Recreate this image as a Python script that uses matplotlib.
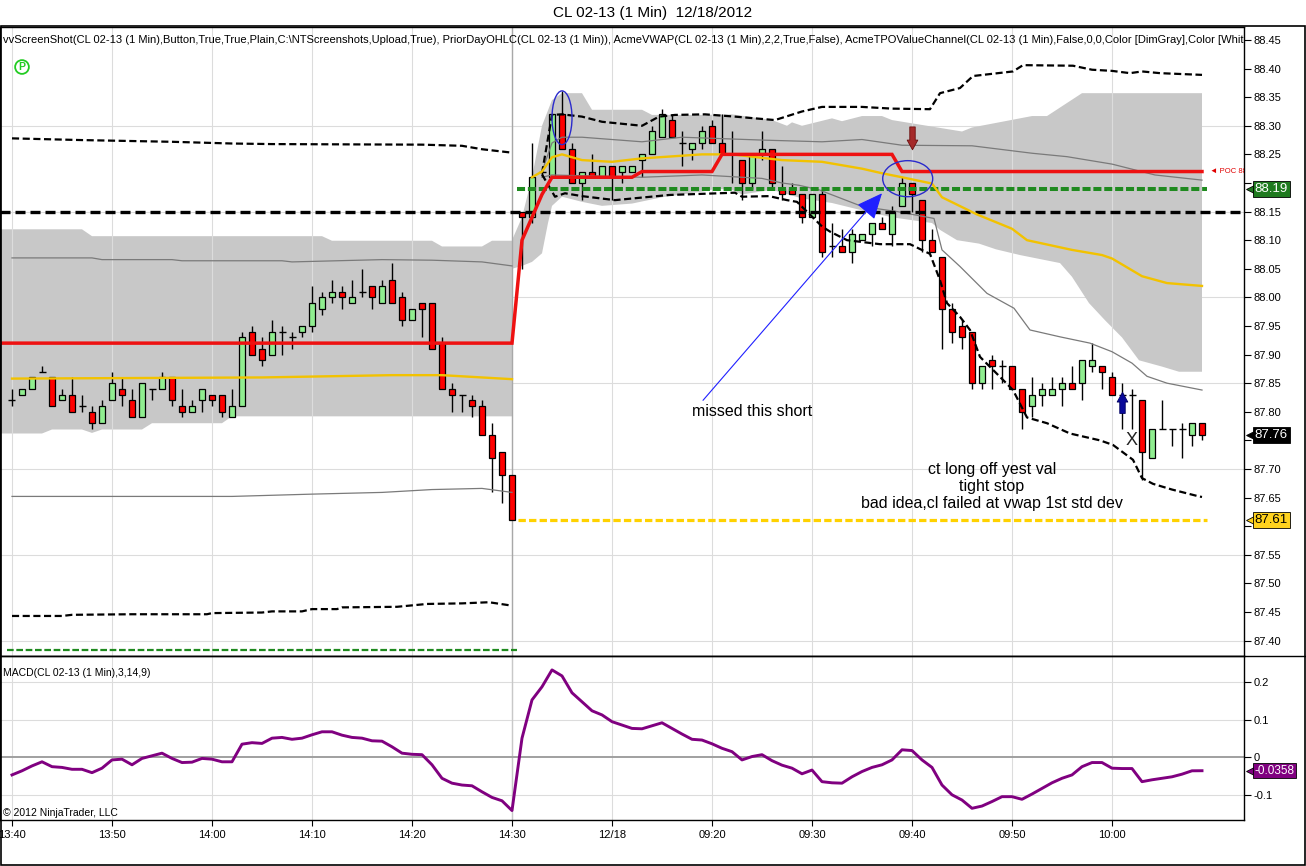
import numpy as np
import matplotlib.pyplot as plt
from matplotlib.patches import Ellipse, Rectangle
from matplotlib.lines import Line2D

plt.rcParams['font.family'] = ['Liberation Sans', 'DejaVu Sans']

# ---------------- data ----------------
tick_bars = [0, 10, 20, 30, 40, 50, 60, 70, 80, 90, 100, 110]
tick_labels = ['13:40', '13:50', '14:00', '14:10', '14:20', '14:30',
               '12/18', '09:20', '09:30', '09:40', '09:50', '10:00']
session_break = 50

opens = [87.82, 87.83, 87.84, 87.87, 87.86, 87.82, 87.83, 87.81, 87.80, 87.78,
         87.82, 87.84, 87.82, 87.79, 87.84, 87.84, 87.86, 87.81, 87.80, 87.82,
         87.83, 87.83, 87.79, 87.81, 87.94, 87.91, 87.90, 87.94, 87.93, 87.94,
         87.95, 87.98, 88.00, 88.01, 87.99, 88.01, 88.02, 87.99, 88.03, 88.00,
         87.96, 87.99, 87.99, 87.92, 87.84, 87.83, 87.82, 87.81, 87.76, 87.73,
         87.69,
         88.15, 88.14, 88.22, 88.21, 88.32, 88.26, 88.20, 88.22, 88.21, 88.23,
         88.22, 88.22, 88.24, 88.25, 88.28, 88.31, 88.27, 88.26, 88.27, 88.30,
         88.27, 88.25, 88.24, 88.20, 88.25, 88.26, 88.19, 88.19, 88.18, 88.14,
         88.18, 88.09, 88.09, 88.08, 88.10, 88.11, 88.13, 88.11, 88.16, 88.20,
         88.17, 88.10, 88.07, 87.98, 87.95, 87.94, 87.85, 87.89, 87.88, 87.88,
         87.84, 87.81, 87.83, 87.83, 87.84, 87.85, 87.85, 87.88, 87.88, 87.86,
         87.83, 87.83, 87.82, 87.72, 87.77, 87.77, 87.77, 87.76, 87.78]
highs = [87.84, 87.84, 87.86, 87.88, 87.86, 87.84, 87.86, 87.83, 87.81, 87.82,
         87.87, 87.86, 87.84, 87.85, 87.84, 87.87, 87.86, 87.84, 87.82, 87.84,
         87.83, 87.83, 87.84, 87.94, 87.95, 87.93, 87.96, 87.95, 87.94, 87.95,
         88.02, 88.01, 88.03, 88.02, 88.03, 88.05, 88.02, 88.03, 88.06, 88.01,
         87.98, 87.99, 87.99, 87.93, 87.85, 87.83, 87.83, 87.82, 87.78, 87.73,
         87.69,
         88.15, 88.27, 88.22, 88.32, 88.36, 88.27, 88.22, 88.25, 88.23, 88.23,
         88.23, 88.23, 88.25, 88.30, 88.33, 88.32, 88.29, 88.27, 88.30, 88.31,
         88.32, 88.29, 88.24, 88.25, 88.29, 88.26, 88.23, 88.20, 88.18, 88.18,
         88.19, 88.13, 88.12, 88.12, 88.11, 88.13, 88.14, 88.16, 88.21, 88.20,
         88.17, 88.12, 88.07, 87.99, 87.96, 87.94, 87.88, 87.90, 87.89, 87.88,
         87.84, 87.86, 87.85, 87.86, 87.86, 87.88, 87.89, 87.92, 87.88, 87.87,
         87.85, 87.84, 87.82, 87.77, 87.82, 87.77, 87.78, 87.78, 87.78]
lows = [87.81, 87.83, 87.84, 87.87, 87.81, 87.82, 87.80, 87.80, 87.77, 87.78,
        87.82, 87.81, 87.79, 87.79, 87.82, 87.84, 87.81, 87.79, 87.80, 87.80,
        87.81, 87.79, 87.79, 87.81, 87.90, 87.88, 87.90, 87.90, 87.91, 87.93,
        87.94, 87.97, 87.99, 87.98, 87.99, 88.00, 87.98, 87.99, 87.99, 87.95,
        87.96, 87.93, 87.91, 87.84, 87.80, 87.80, 87.79, 87.76, 87.66, 87.64,
        87.61,
        88.05, 88.13, 88.21, 88.21, 88.26, 88.20, 88.17, 88.21, 88.21, 88.17,
        88.20, 88.22, 88.21, 88.25, 88.28, 88.28, 88.23, 88.24, 88.26, 88.27,
        88.25, 88.20, 88.17, 88.19, 88.24, 88.19, 88.17, 88.18, 88.13, 88.14,
        88.07, 88.07, 88.08, 88.06, 88.10, 88.09, 88.12, 88.09, 88.16, 88.15,
        88.08, 88.08, 87.91, 87.92, 87.91, 87.84, 87.84, 87.84, 87.85, 87.84,
        87.77, 87.79, 87.81, 87.83, 87.81, 87.84, 87.82, 87.87, 87.84, 87.83,
        87.77, 87.77, 87.68, 87.72, 87.77, 87.74, 87.72, 87.74, 87.75]
closes = [87.82, 87.84, 87.86, 87.87, 87.81, 87.83, 87.80, 87.81, 87.78, 87.81,
          87.85, 87.83, 87.79, 87.85, 87.84, 87.86, 87.82, 87.80, 87.81, 87.84,
          87.82, 87.80, 87.81, 87.93, 87.90, 87.89, 87.94, 87.94, 87.93, 87.95,
          87.99, 88.00, 88.01, 88.00, 88.00, 88.01, 88.00, 88.02, 87.99, 87.96,
          87.98, 87.98, 87.91, 87.84, 87.83, 87.83, 87.81, 87.76, 87.72, 87.69,
          87.61,
          88.14, 88.21, 88.22, 88.32, 88.26, 88.20, 88.22, 88.21, 88.23, 88.21,
          88.23, 88.23, 88.25, 88.29, 88.32, 88.28, 88.27, 88.27, 88.29, 88.27,
          88.25, 88.25, 88.20, 88.25, 88.26, 88.20, 88.18, 88.18, 88.14, 88.18,
          88.08, 88.09, 88.08, 88.11, 88.11, 88.13, 88.12, 88.15, 88.20, 88.18,
          88.10, 88.08, 87.98, 87.94, 87.93, 87.85, 87.88, 87.88, 87.88, 87.84,
          87.80, 87.83, 87.84, 87.84, 87.85, 87.84, 87.89, 87.89, 87.87, 87.83,
          87.83, 87.83, 87.73, 87.77, 87.77, 87.77, 87.77, 87.78, 87.76]

macd = [-0.047, -0.036, -0.023, -0.012, -0.025, -0.027, -0.032, -0.032, -0.041, -0.029,
        -0.007, -0.005, -0.020, -0.003, 0.004, 0.011, -0.003, -0.014, -0.013, -0.003,
        -0.005, -0.012, -0.012, 0.035, 0.039, 0.037, 0.051, 0.053, 0.048, 0.051,
        0.060, 0.068, 0.068, 0.059, 0.053, 0.051, 0.044, 0.043, 0.028, 0.011,
        0.008, 0.007, -0.020, -0.056, -0.069, -0.074, -0.076, -0.092, -0.107, -0.116,
        -0.142,
        0.051, 0.153, 0.188, 0.233, 0.217, 0.172, 0.148, 0.124, 0.113, 0.095,
        0.086, 0.077, 0.076, 0.084, 0.092, 0.077, 0.062, 0.048, 0.046, 0.036,
        0.024, 0.015, -0.007, 0.002, 0.007, -0.009, -0.021, -0.029, -0.044, -0.034,
        -0.065, -0.068, -0.069, -0.052, -0.038, -0.027, -0.020, -0.007, 0.020, 0.018,
        -0.007, -0.027, -0.074, -0.100, -0.114, -0.136, -0.130, -0.118, -0.105, -0.105,
        -0.112, -0.098, -0.083, -0.068, -0.056, -0.047, -0.025, -0.014, -0.014, -0.029,
        -0.030, -0.030, -0.065, -0.060, -0.056, -0.052, -0.045, -0.036, -0.0358]

# TPO value channel (grey band), prior session and current session
band_prev_top_x = [-2, 7, 8, 31, 32, 42, 43, 47, 48, 50]
band_prev_top_y = [88.119, 88.119, 88.107, 88.107, 88.099, 88.099, 88.089, 88.089, 88.099, 88.099]
band_prev_bot_x = [-2, 3, 4, 7, 8, 9, 13, 14, 21, 22, 50]
band_prev_bot_y = [87.762, 87.762, 87.769, 87.769, 87.763, 87.769, 87.769, 87.78, 87.78, 87.792, 87.792]
band_cur_top_x = [50, 51, 52, 53, 54, 55, 57, 58, 63, 64, 69, 72, 76, 77.5, 78, 79, 82, 83,
                  85, 87, 88, 95, 96, 102, 103.5, 107, 119]
band_cur_top_y = [88.10, 88.14, 88.21, 88.30, 88.345, 88.357, 88.357, 88.328, 88.328, 88.319,
                  88.319, 88.32, 88.31, 88.30, 88.306, 88.30, 88.313, 88.308, 88.317, 88.317,
                  88.31, 88.29, 88.297, 88.317, 88.317, 88.357, 88.357]
band_cur_bot_x = [50, 51, 52, 53, 53.6, 54, 55, 57, 59, 62, 65, 69, 70.5, 72, 73, 76, 79, 82,
                  85.5, 88, 92, 92.8, 94.5, 96.7, 98.4, 100.8, 104.8, 106, 107.7, 109.3, 111,
                  112.7, 115, 116.7, 119]
band_cur_bot_y = [88.05, 88.055, 88.062, 88.077, 88.13, 88.16, 88.176, 88.167, 88.16, 88.164,
                  88.175, 88.185, 88.19, 88.188, 88.18, 88.188, 88.173, 88.165, 88.15, 88.14,
                  88.13, 88.118, 88.10, 88.094, 88.084, 88.074, 88.06, 88.036, 87.99, 87.96,
                  87.93, 87.89, 87.879, 87.87, 87.87]

# VWAP and its deviation bands
vwap_prev_x = [0, 25, 38, 43, 50]
vwap_prev_y = [87.858, 87.86, 87.864, 87.864, 87.857]
vwap_cur_x = [52, 53, 54, 55, 57, 60, 63, 69, 72, 77, 81, 85, 87, 89, 92, 93, 96.5, 100,
              101.5, 106, 109, 110, 113, 115.5, 119]
vwap_cur_y = [88.21, 88.22, 88.245, 88.25, 88.24, 88.237, 88.243, 88.25, 88.25, 88.24,
              88.237, 88.225, 88.217, 88.21, 88.199, 88.175, 88.145, 88.12, 88.10, 88.083,
              88.074, 88.068, 88.037, 88.025, 88.02]

sd1_up_prev_x = [0, 8, 9, 16, 17, 27, 28, 37, 42, 47, 50]
sd1_up_prev_y = [88.069, 88.069, 88.066, 88.066, 88.064, 88.064, 88.062, 88.066, 88.065, 88.062, 88.055]
sd1_dn_prev_x = [0, 22, 30, 37, 42, 47, 50]
sd1_dn_prev_y = [87.652, 87.652, 87.656, 87.659, 87.664, 87.666, 87.659]
sd2_up_prev_x = [0, 7, 16, 22, 26, 41, 45, 47, 50]
sd2_up_prev_y = [88.278, 88.275, 88.272, 88.269, 88.268, 88.267, 88.265, 88.259, 88.253]
sd2_dn_prev_x = [0, 5, 6, 12, 19.5, 20, 25, 26, 29, 30, 32.5, 33, 38.5, 41.5, 45, 47.7, 50]
sd2_dn_prev_y = [87.443, 87.443, 87.445, 87.446, 87.446, 87.448, 87.449, 87.451, 87.451,
                 87.455, 87.455, 87.458, 87.459, 87.464, 87.465, 87.467, 87.461]

sd1_up_cur_x = [53, 54, 55, 57, 63, 67, 75, 81, 85, 89, 96, 102, 105.5, 110, 114.3, 119]
sd1_up_cur_y = [88.22, 88.27, 88.28, 88.28, 88.272, 88.28, 88.275, 88.272, 88.276, 88.266,
                88.265, 88.252, 88.246, 88.233, 88.214, 88.205]
sd1_dn_cur_x = [53, 54, 63, 69, 75, 77, 78.7, 80.7, 85, 88.5, 92.2, 93, 94.8, 97.5, 100.2,
                101.8, 104.8, 107.8, 110, 112, 113.5, 115.5, 119]
sd1_dn_cur_y = [88.21, 88.214, 88.21, 88.214, 88.208, 88.20, 88.196, 88.188, 88.159, 88.15,
                88.138, 88.083, 88.054, 88.007, 87.981, 87.943, 87.931, 87.92, 87.905, 87.885,
                87.862, 87.85, 87.838]
sd2_up_cur_x = [53, 54, 55, 57, 59, 63, 64.7, 66.3, 69.3, 72.3, 76.3, 79, 81, 85, 88, 91.8,
                92.8, 94.8, 96.1, 100.1, 101.1, 106.1, 108, 110, 111.8, 113, 114.8, 119]
sd2_up_cur_y = [88.217, 88.319, 88.32, 88.316, 88.307, 88.30, 88.316, 88.319, 88.32, 88.316,
                88.31, 88.325, 88.333, 88.333, 88.33, 88.329, 88.357, 88.366, 88.387, 88.395,
                88.406, 88.405, 88.398, 88.396, 88.392, 88.395, 88.392, 88.389]
sd2_dn_cur_x = [53, 54.3, 55.3, 57, 60.3, 65.7, 72.3, 73, 75.7, 77.5, 78.5, 81, 81.8, 83.5,
                86.8, 89.8, 91.8, 92.8, 93.5, 94.8, 95.8, 96.8, 98.8, 100.1, 101.5, 103.5,
                105.8, 108.8, 110.1, 112.1, 113, 114.1, 116, 118.7, 119]
sd2_dn_cur_y = [88.215, 88.176, 88.182, 88.177, 88.17, 88.179, 88.183, 88.176, 88.177, 88.17,
                88.167, 88.124, 88.115, 88.10, 88.093, 88.093, 88.076, 88.03, 87.99, 87.966,
                87.943, 87.896, 87.861, 87.838, 87.79, 87.78, 87.762, 87.75, 87.742, 87.716,
                87.684, 87.674, 87.664, 87.652, 87.651]

# developing POC (red)
poc_x = [-2, 50, 51, 52, 53, 54, 62, 63, 70, 71, 88, 89, 119]
poc_y = [87.92, 87.92, 88.10, 88.14, 88.18, 88.21, 88.21, 88.22, 88.22, 88.25, 88.25, 88.22, 88.22]

prior_level_green = 87.384     # prior session level
val_level = 88.19              # yesterday value area low
pivot_level = 88.15
low_level = 87.61
last_price = 87.76
last_macd = -0.0358

# ---------------- figure ----------------
W, H = 1306, 866
fig = plt.figure(figsize=(W / 100, H / 100), dpi=100)
ax = fig.add_axes([0, 1 - 656 / H, 1244 / W, (656 - 27) / H])
ax2 = fig.add_axes([0, 1 - 820 / H, 1244 / W, (820 - 656) / H], sharex=ax)

xs = np.arange(len(opens))
ax.set_xlim(-1.2, 123.2)
ax.set_ylim(87.373, 88.4727)
ax2.set_ylim(-0.1672, 0.2701)

grid_c = '#dcdcdc'
for t in tick_bars:
    ax.axvline(t, color=grid_c, lw=0.8, zorder=1.5)
    ax2.axvline(t, color=grid_c, lw=0.8, zorder=0.5)
for lv in np.arange(87.40, 88.31, 0.15):
    ax.axhline(lv, color=grid_c, lw=0.8, zorder=0.5)
for lv in [0.2, 0.1, -0.1]:
    ax2.axhline(lv, color=grid_c, lw=0.8, zorder=0.5)
ax.axvline(session_break, color='#a8a8a8', lw=1, zorder=1.6)
ax2.axvline(session_break, color='#c8c8c8', lw=1, zorder=0.6)

# grey value channel
band_c = '#c8c8c8'
ax.fill(band_prev_top_x + band_prev_bot_x[::-1], band_prev_top_y + band_prev_bot_y[::-1],
        color=band_c, lw=0, zorder=1)
ax.fill(band_cur_top_x + band_cur_bot_x[::-1], band_cur_top_y + band_cur_bot_y[::-1],
        color=band_c, lw=0, zorder=1)

# candles
o = np.array(opens); h = np.array(highs); l = np.array(lows); c = np.array(closes)
ax.vlines(xs, l, h, color='black', lw=1, zorder=3)
body = np.abs(c - o) > 1e-9
cols = np.where(c > o, '#90ee90', '#ff0000')
ax.bar(xs[body], (np.abs(c - o))[body], bottom=np.minimum(o, c)[body], width=0.66,
       color=cols[body], edgecolor='black', linewidth=0.9, zorder=3.2)
ax.hlines(o[~body], xs[~body] - 0.35, xs[~body] + 0.35, color='black', lw=1, zorder=3.2)

# indicator lines
thin = dict(color='#7a7a7a', lw=0.9, zorder=4)
ax.plot(sd1_up_prev_x, sd1_up_prev_y, **thin)
ax.plot(sd1_dn_prev_x, sd1_dn_prev_y, **thin)
ax.plot(sd1_up_cur_x, sd1_up_cur_y, **thin)
ax.plot(sd1_dn_cur_x, sd1_dn_cur_y, **thin)
dash = dict(color='black', lw=1.6, dashes=(3.2, 1.6), zorder=4.2)
ax.plot(sd2_up_prev_x, sd2_up_prev_y, **dash)
ax.plot(sd2_dn_prev_x, sd2_dn_prev_y, **dash)
ax.plot(sd2_up_cur_x, sd2_up_cur_y, **dash)
ax.plot(sd2_dn_cur_x, sd2_dn_cur_y, **dash)

ax.axhline(pivot_level, color='black', lw=2.4, dashes=(3, 1.5), zorder=4.3)
ax.hlines(val_level, 50.5, 119.5, color='#1f8a1f', lw=2.9, linestyles=(0, (2, 0.7)), zorder=4.4)
ax.hlines(prior_level_green, -0.45, 50.45, color='#1f8a1f', lw=1.6, linestyles=(0, (3, 1.2)), zorder=4.4)
ax.hlines(low_level, 50.6, 119.5, color='#ffd200', lw=2.3, linestyles=(0, (2.3, 1)), zorder=4.4)

ax.plot(vwap_prev_x, vwap_prev_y, color='#f2c200', lw=1.7, zorder=4.5)
ax.plot(vwap_cur_x, vwap_cur_y, color='#f2c200', lw=1.7, zorder=4.5)
ax.plot(poc_x, poc_y, color='#ee1111', lw=2.5, zorder=4.6, solid_joinstyle='miter')

# annotations
ax.add_patch(Ellipse((55, 88.314), 2.0, 0.094, fill=False, ec='#2a2acc', lw=1, zorder=6))
ax.add_patch(Ellipse((89.57, 88.2075), 5.0, 0.063, fill=False, ec='#2a2acc', lw=1, zorder=6))
ax.annotate('', xy=(87.0, 88.182), xytext=(69.1, 87.82),
            arrowprops=dict(arrowstyle='-|>,head_length=0.9,head_width=0.4', color='#2020ff',
                            lw=0.8, mutation_scale=18, shrinkA=0, shrinkB=0), zorder=6)
ax.annotate('', xy=(90.05, 88.258), xytext=(90.05, 88.298),
            arrowprops=dict(arrowstyle='simple,head_length=0.5,head_width=0.55,tail_width=0.28',
                            fc='#a52a2a', ec='#6b1010', lw=0.6, mutation_scale=14,
                            shrinkA=0, shrinkB=0), zorder=6)
ax.annotate('', xy=(111.05, 87.834), xytext=(111.05, 87.797),
            arrowprops=dict(arrowstyle='simple,head_length=0.5,head_width=0.55,tail_width=0.28',
                            fc='#0a0a9a', ec='#000060', lw=0.6, mutation_scale=14,
                            shrinkA=0, shrinkB=0), zorder=6)
ax.text(74, 87.80, 'missed this short', ha='center', va='center', fontsize=11.5, zorder=7)
ax.text(98, 87.669, 'ct long off yest val\ntight stop\nbad idea,cl failed at vwap 1st std dev',
        ha='center', va='center', multialignment='center', fontsize=11.5, linespacing=1.15, zorder=7)
ax.text(112, 87.75, 'X', ha='center', va='center', fontsize=13, color='#222222', zorder=7)
ax.text(119.8, 88.22, '\u25c4 POC 88.', ha='left', va='center', fontsize=5.5, color='#e00000',
        clip_on=True, zorder=7)

header = (r"vvScreenShot(CL 02-13 (1 Min),Button,True,True,Plain,C:\NTScreenshots,Upload,True), "
          r"PriorDayOHLC(CL 02-13 (1 Min)), AcmeVWAP(CL 02-13 (1 Min),2,2,True,False), "
          r"AcmeTPOValueChannel(CL 02-13 (1 Min),False,0,0,Color [DimGray],Color [White])")
ax.text(0.0025, (656 - 40) / 629, header, transform=ax.transAxes, ha='left', va='center',
        fontsize=8.05, clip_on=True, zorder=8)
# circled "P" marker of the screenshot button
ax.text(22 / 1244, (656 - 67) / 629, 'P', transform=ax.transAxes, ha='center', va='center',
        fontsize=7.5, fontweight='bold', color='#22cc22', zorder=8,
        bbox=dict(boxstyle='circle,pad=0.18', fc='none', ec='#22cc22', lw=1.3))

# axes styling
ax.yaxis.tick_right()
price_ticks = np.round(np.arange(87.40, 88.451, 0.05), 2)
covered = [val_level, last_price, low_level]
ax.set_yticks(price_ticks)
ax.set_yticklabels(['' if any(abs(v - cv) < 0.012 for cv in covered) else f'{v:.2f}'
                    for v in price_ticks])
ax.tick_params(axis='y', direction='out', length=5, width=0.8, labelsize=8, pad=2)
ax.tick_params(axis='x', bottom=False, labelbottom=False)
for s in ax.spines.values():
    s.set_linewidth(1)

ax2.plot(xs, macd, color='#800080', lw=2.1, zorder=3)
ax2.axhline(0, color='#a0a0a0', lw=1.4, zorder=1)
ax2.yaxis.tick_right()
ax2.set_yticks([0.2, 0.1, 0, -0.1])
ax2.set_yticklabels(['0.2', '0.1', '0', '-0.1'])
ax2.tick_params(axis='y', direction='out', length=5, width=0.8, labelsize=8, pad=2)
ax2.set_xticks(tick_bars)
ax2.set_xticklabels(tick_labels)
ax2.tick_params(axis='x', direction='out', length=4, width=0.8, labelsize=8, pad=3)
for s in ax2.spines.values():
    s.set_linewidth(1)
ax2.text(0.0025, (820 - 673) / 164, 'MACD(CL 02-13 (1 Min),3,14,9)', transform=ax2.transAxes,
         ha='left', va='center', fontsize=7.5)
ax2.text(0.0025, (820 - 813) / 164, '\u00a9 2012 NinjaTrader, LLC', transform=ax2.transAxes,
         ha='left', va='center', fontsize=7.5)


def tag(axis, y, text, fc, tc, size=9.5):
    tr = axis.get_yaxis_transform()
    axis.plot([1.0068], [y], marker='<', ms=9, color=fc, mec='black', mew=0.6,
              transform=tr, clip_on=False, zorder=9)
    axis.text(1.0085, y, text, transform=tr, ha='left', va='center', fontsize=size, color=tc,
              bbox=dict(boxstyle='square,pad=0.15', fc=fc, ec='black', lw=0.6),
              clip_on=False, zorder=10)


tag(ax, val_level, f'{val_level:.2f}', '#1f7a1f', 'white')
tag(ax, last_price, f'{last_price:.2f}', 'black', 'white')
tag(ax, low_level, f'{low_level:.2f}', '#ffd21e', 'black')
tag(ax2, last_macd, f'{last_macd:.4f}', '#800080', 'white', size=8.5)

fig.text(0.5, 1 - 13 / H, 'CL 02-13 (1 Min)  12/18/2012', ha='center', va='center', fontsize=11)
fig.add_artist(Rectangle((0.0004, 1 - 865 / H), 1305 / W - 0.0004, (865 - 26) / H,
                         transform=fig.transFigure, fill=False, ec='black', lw=1.2))
fig.add_artist(Line2D([0, 1305 / W], [1 - 656 / H] * 2, transform=fig.transFigure,
                      color='black', lw=1))

fig.savefig('out.png', dpi=100)
